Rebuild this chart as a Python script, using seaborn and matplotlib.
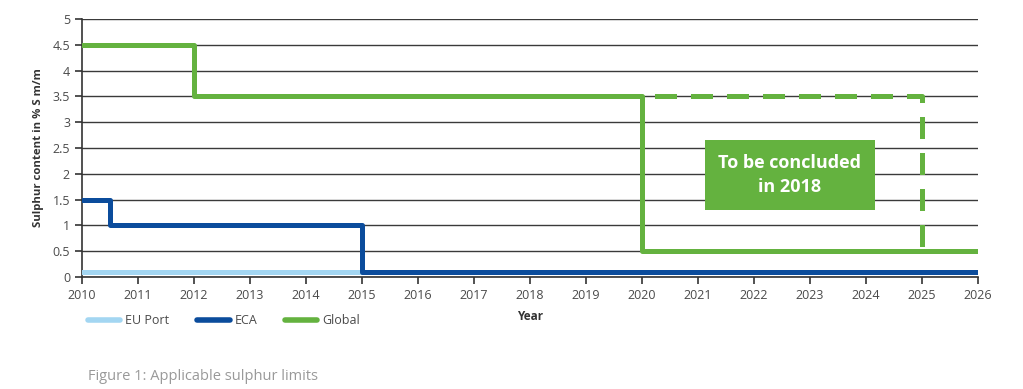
import matplotlib
matplotlib.use("Agg")
import matplotlib.pyplot as plt
import seaborn as sns
import pandas as pd

# Data
eu_years = [2010, 2015]
eu_vals = [0.1, 0.1]
eca_years = [2010, 2010.5, 2015, 2026]
eca_vals = [1.5, 1.0, 0.1, 0.1]
glob_years = [2010, 2012, 2020, 2026]
glob_vals = [4.5, 3.5, 0.5, 0.5]
alt_years = [2020, 2025, 2025]
alt_vals = [3.5, 3.5, 0.5]
series_names = ["EU Port", "ECA", "Global"]
x_ticks = list(range(2010, 2027))
y_ticks = [0, 0.5, 1, 1.5, 2, 2.5, 3, 3.5, 4, 4.5, 5]
y_tick_labels = ["0", "0.5", "1", "1.5", "2", "2.5", "3", "3.5", "4", "4.5", "5"]

sns.set_theme(style="white")
plt.rcParams['font.family'] = ['Open Sans', 'DejaVu Sans']

colors = {"EU Port": "#a3d6f2", "ECA": "#0b4c9c", "Global": "#64b23f"}

df = pd.concat([
    pd.DataFrame({"Year": eu_years, "Value": eu_vals, "Series": "EU Port"}),
    pd.DataFrame({"Year": eca_years, "Value": eca_vals, "Series": "ECA"}),
    pd.DataFrame({"Year": glob_years, "Value": glob_vals, "Series": "Global"}),
], ignore_index=True)

fig = plt.figure(figsize=(10.23, 3.89), dpi=100)
ax = fig.add_axes([0.080, 0.288, 0.876, 0.663])

for yv in y_ticks:
    ax.axhline(yv, color="#3a3a3a", lw=1.0, zorder=1)

sns.lineplot(data=df, x="Year", y="Value", hue="Series", hue_order=series_names,
             palette=colors, drawstyle="steps-post", lw=3.6, ax=ax, legend=False,
             zorder=3, estimator=None, sort=False)

ax.plot(alt_years, alt_vals, color=colors["Global"], lw=3.6, ls=(-2.5, (4.4, 2.8)),
        zorder=3, solid_capstyle="butt")

ax.text(2022.64, 1.98, "To be concluded\nin 2018", ha="center", va="center",
        color="white", fontsize=13, fontweight="bold", linespacing=1.45,
        bbox=dict(boxstyle="square,pad=0.75", fc=colors["Global"], ec="none"),
        zorder=5)

ax.set_xlim(2010, 2026)
ax.set_ylim(0, 5)
ax.set_xticks(x_ticks)
ax.set_xticklabels([str(x) for x in x_ticks])
ax.set_yticks(y_ticks)
ax.set_yticklabels(y_tick_labels)
ax.tick_params(axis="both", colors="#333333", labelcolor="#4a4a4a", labelsize=9,
               length=5, width=1.2, direction="out", bottom=True, left=True)
for s in ["top", "right"]:
    ax.spines[s].set_visible(False)
for s in ["left", "bottom"]:
    ax.spines[s].set_color("#333333")
    ax.spines[s].set_linewidth(1.2)
ax.set_xlabel("Year", fontsize=8.5, fontweight="bold", color="#333333", labelpad=6)
ax.set_ylabel("Sulphur content in % S m/m", fontsize=8.2, fontweight="bold",
              color="#333333", labelpad=6)

from matplotlib.lines import Line2D
handles = [Line2D([0], [0], color=colors[n], lw=4, solid_capstyle="round") for n in series_names]
fig.legend(handles, series_names, loc="center left", bbox_to_anchor=(0.075, 0.175),
           ncol=3, frameon=False, fontsize=9, handlelength=2.6, columnspacing=2.2,
           handletextpad=0.4, labelcolor="#4a4a4a")

fig.text(0.086, 0.033, "Figure 1: Applicable sulphur limits", fontsize=10.5,
         color="#999999", ha="left", va="center")

fig.savefig("out.png", dpi=100)
